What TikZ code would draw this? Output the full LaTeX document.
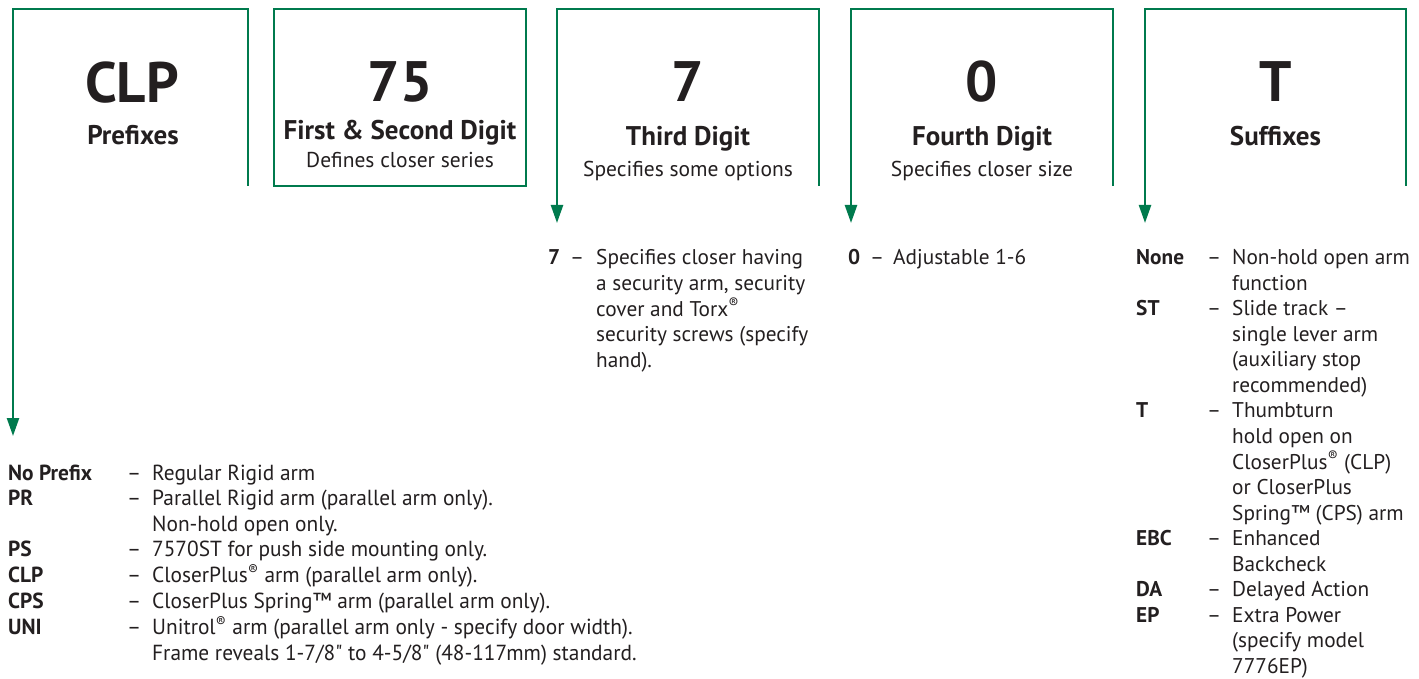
\documentclass[tikz,border=0pt]{standalone}
\usepackage{fontspec}
\setmainfont{PT Sans}
\newfontfamily\condfont{PT Sans}[FakeStretch=0.98]
\usetikzlibrary{arrows.meta}
\definecolor{sgreen}{RGB}{0,122,77}
\definecolor{ink}{RGB}{35,31,32}
\newcommand{\regm}{\textsuperscript{®}}
\begin{document}
\begin{tikzpicture}[x=1pt,y=-1pt,
  frame/.style={draw=sgreen,line width=2.4pt},
  lead/.style={frame,-{Triangle[width=12pt,length=18pt]}},
  big/.style={font=\fontsize{57}{57}\selectfont\bfseries,text=ink,anchor=base,inner sep=0pt},
  head/.style={font=\fontsize{27}{27}\selectfont\bfseries,text=ink,anchor=base,inner sep=0pt},
  sub/.style={font=\fontsize{21.5}{21.5}\selectfont,text=ink,anchor=base,inner sep=0pt},
  body/.style={font=\fontsize{21.3}{25.5}\selectfont,text=ink,anchor=base west,inner sep=0pt},
  cbody/.style={font=\condfont\fontsize{21.8}{25.6}\selectfont,text=ink,anchor=base west,inner sep=0pt},
]
\useasboundingbox (0,0) rectangle (1419,679);
% corners and arrow ends
\coordinate (b1r) at (248,186); \coordinate (b1l) at (13,9);   \coordinate (t1) at (13,436);
\coordinate (b2a) at (274,9);   \coordinate (b2b) at (526,186);
\coordinate (b3r) at (819,186); \coordinate (b3l) at (557,9);  \coordinate (t3) at (557,223);
\coordinate (b4r) at (1113,186);\coordinate (b4l) at (851,9);  \coordinate (t4) at (851,223);
\coordinate (b5r) at (1406,186);\coordinate (b5l) at (1145,9); \coordinate (t5) at (1145,223);
% frames with leaders
\draw[lead] (b1r) |- (b1l) -- (t1);
\draw[frame] (b2a) rectangle (b2b);
\draw[lead] (b3r) |- (b3l) -- (t3);
\draw[lead] (b4r) |- (b4l) -- (t4);
\draw[lead] (b5r) |- (b5l) -- (t5);
% headings
\node[big]  (clp) at (132,103) {CLP};
\node[head] (pre) at (133,145) {Prefixes};
\node[big]  (n75) at (400,102) {75};
\node[head] (fsd) at (400,140) {First \& Second Digit};
\node[sub]  (dcs) at (400,168) {Defines closer series};
\node[big]  (n7)  at (688,102) {7};
\node[head] (td)  at (688,146) {Third Digit};
\node[sub]  (sso) at (688,177) {Specifies some options};
\node[big]  (n0)  at (982,102) {0};
\node[head] (fd)  at (982,146) {Fourth Digit};
\node[sub]  (scs) at (982,177) {Specifies closer size};
\node[big]  (nT)  at (1275.5,102) {T};
\node[head] (suf) at (1275.5,146) {Suffixes};
% descriptions
\node[cbody] (dpre) at (8,480) {\begin{tabular}[t]{@{}p{119pt}@{}p{25pt}@{}l@{}}
\textbf{No Prefix} & – & Regular Rigid arm\\
\textbf{PR} & – & Parallel Rigid arm (parallel arm only).\\
 & & Non-hold open only.\\
\textbf{PS} & – & 7570ST for push side mounting only.\\
\textbf{CLP} & – & CloserPlus\regm{} arm (parallel arm only).\\
\textbf{CPS} & – & CloserPlus Spring™ arm (parallel arm only).\\
\textbf{UNI} & – & Unitrol\regm{} arm (parallel arm only - specify door width).\\
 & & Frame reveals 1-7/8" to 4-5/8" (48-117mm) standard.
\end{tabular}};
\node[body] (d7) at (548,265) {\begin{tabular}[t]{@{}p{22pt}@{}p{26pt}@{}l@{}}
\textbf{7} & – & Specifies closer having\\
 & & a security arm, security\\
 & & cover and Torx\regm\\
 & & security screws (specify\\
 & & hand).
\end{tabular}};
\node[body] (d0) at (848,265) {\begin{tabular}[t]{@{}p{22pt}@{}p{23pt}@{}l@{}}
\textbf{0} & – & Adjustable 1-6
\end{tabular}};
\node[body] (dsuf) at (1136,265) {\begin{tabular}[t]{@{}p{71pt}@{}p{25pt}@{}l@{}}
\textbf{None} & – & Non-hold open arm\\
 & & function\\
\textbf{ST} & – & Slide track –\\
 & & single lever arm\\
 & & (auxiliary stop\\
 & & recommended)\\
\textbf{T} & – & Thumbturn\\
 & & hold open on\\
 & & CloserPlus\regm{} (CLP)\\
 & & or CloserPlus\\
 & & Spring™ (CPS) arm\\
\textbf{EBC} & – & Enhanced\\
 & & Backcheck\\
\textbf{DA} & – & Delayed Action\\
\textbf{EP} & – & Extra Power\\
 & & (specify model\\
 & & 7776EP)
\end{tabular}};
\end{tikzpicture}
\end{document}
